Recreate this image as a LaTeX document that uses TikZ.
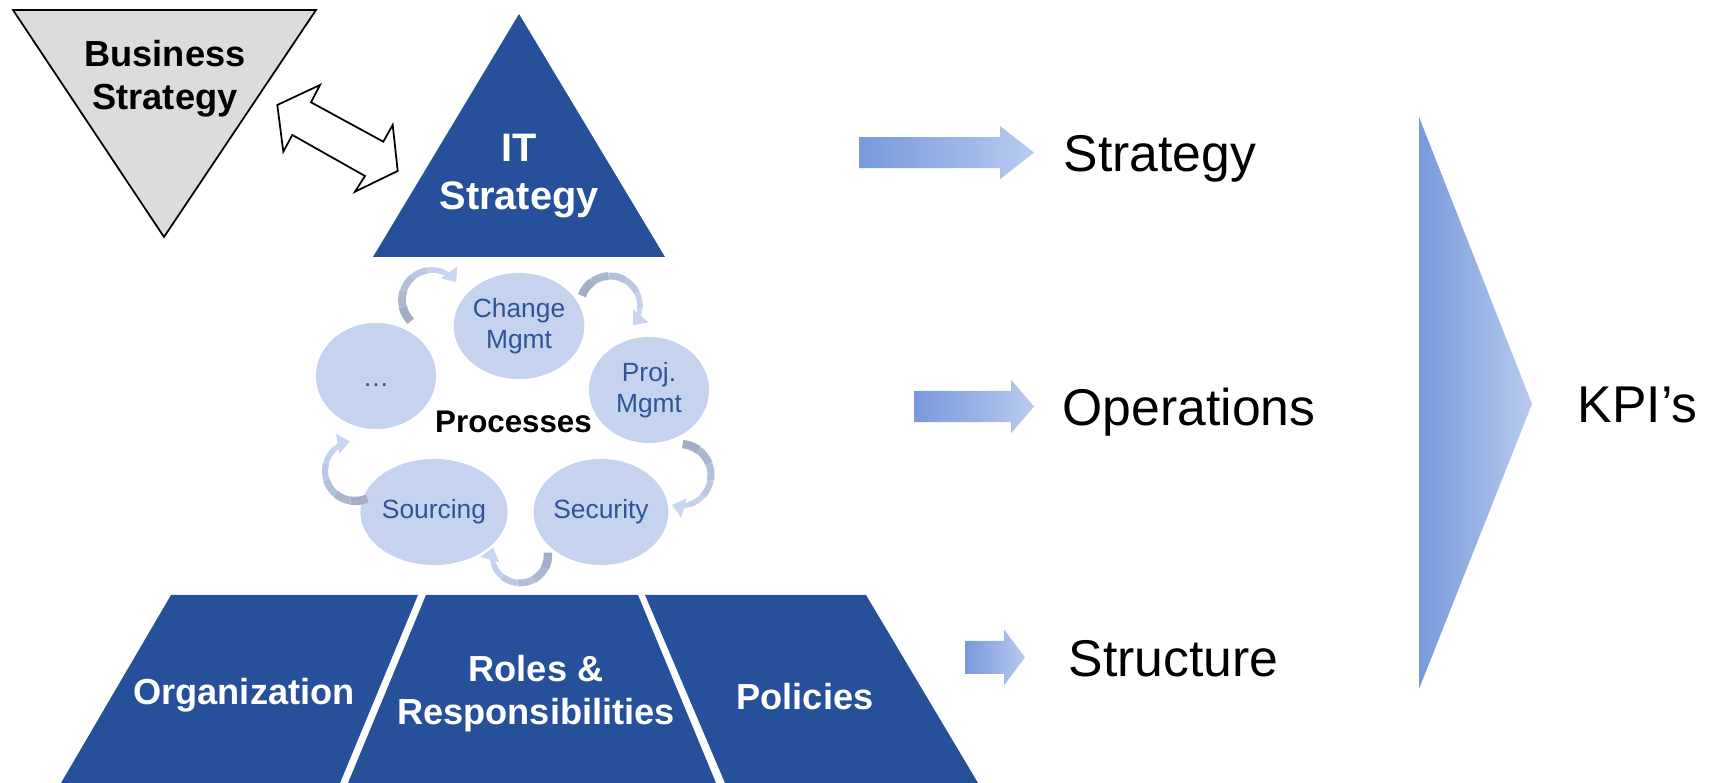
\documentclass[tikz,border=0pt]{standalone}
\usepackage{fontspec}
\setmainfont{Liberation Sans}
\usepackage{tikz}
\usetikzlibrary{shapes.geometric,arrows.meta}

\definecolor{itblue}{HTML}{27509B}
\definecolor{bizgray}{HTML}{DCDCDC}
\definecolor{procfill}{HTML}{C5D3EE}
\definecolor{proctext}{HTML}{2F5597}
\definecolor{cyctail}{HTML}{A3AEC6}
\definecolor{cychead}{HTML}{C9D6F1}
\definecolor{arrl}{HTML}{7899DB}
\definecolor{arrr}{HTML}{B8CAEE}

\newcommand{\cyclearrow}[5]{%
  \coordinate (cc) at ([shift={#2}]#1.center);
  \foreach \k in {0,...,4}{%
    \pgfmathsetmacro{\pa}{#4+(#5-#4)*\k/6}%
    \pgfmathsetmacro{\pb}{#4+(#5-#4)*(\k+1)/6}%
    \pgfmathsetmacro{\lw}{2.4-\k*0.2}%
    \pgfmathtruncatemacro{\mx}{100-\k*22}%
    \draw[line width=\lw pt, draw=cyctail!\mx!cychead] ([shift={(\pa:#3)}]cc) arc[start angle=\pa, end angle=\pb, radius=#3];
  }%
  \pgfmathsetmacro{\pa}{#4+(#5-#4)*5/6}%
  \draw[line width=1.4pt, draw=cychead, -{Triangle[width=5.5pt, length=3.5pt]}] ([shift={(\pa:#3)}]cc) arc[start angle=\pa, end angle=#5, radius=#3];
}

\newcommand{\blockarrow}[6]{%
  \shade[left color=arrl, right color=arrr] (#1,#4-#5) -- (#2,#4-#5) -- (#2,#4-#6) -- (#3,#4)
    -- (#2,#4+#6) -- (#2,#4+#5) -- (#1,#4+#5) -- cycle;
}

\begin{document}
\begin{tikzpicture}[x=0.01cm, y=0.01cm,
  proc/.style={ellipse, fill=procfill, text=proctext, minimum width=1.2cm, minimum height=1.06cm,
    inner sep=0pt, align=center, font=\fontsize{7.5}{8.8}\selectfont},
  whitelabel/.style={text=white, align=center, inner sep=0pt, font=\bfseries\fontsize{10.3}{12.2}\selectfont},
  biglabel/.style={anchor=base west, inner sep=0pt, font=\fontsize{14.7}{17}\selectfont}]
	\useasboundingbox (0,0) rectangle (1713,783);

	\filldraw[fill=bizgray, draw=black, line width=0.5pt] (13,773) -- (316,773) -- (164,546) -- cycle;
	\node[align=center, inner sep=0pt, font=\bfseries\fontsize{10.3}{12.2}\selectfont] (biz) at (165,704) {Business\\Strategy};
	\fill[itblue] (519,769) -- (665,526) -- (373,526) -- cycle;
	\node[align=center, inner sep=0pt, text=white, font=\bfseries\fontsize{11.3}{13.6}\selectfont] (it) at (519,607) {IT\\Strategy};
	\filldraw[fill=white, draw=black, line width=0.5pt, line join=miter]
	  (277.3,678) -- (320,698) -- (311,680.7) -- (383.3,641.3) -- (392.7,658) -- (397.7,612)
	  -- (355,591.3) -- (365,607) -- (292.3,648) -- (283.3,631.3) -- cycle;

	\node[proc] (chg) at (519,457) {Change\\Mgmt};
	\node[proc] (prj) at (649,393) {Proj.\\Mgmt};
	\node[proc] (sec) at (601,271) {Security};
	\node[proc] (src) at (434,271) {Sourcing};
	\node[proc] (etc) at (376,407) {\smash{\raisebox{-2.9pt}{\dots}}};
	\node[anchor=base, inner sep=0pt, font=\bfseries\fontsize{8.9}{10}\selectfont] (procs) at (513.5,350) {Processes};

	\cyclearrow{etc}{(56,76)}{30}{225}{36}
	\cyclearrow{chg}{(91,20)}{30}{160}{-40}
	\cyclearrow{prj}{(31,-85)}{31}{85}{-105}
	\cyclearrow{sec}{(-81,-43)}{28}{5}{-195}
	\cyclearrow{src}{(-79,41)}{30}{-66}{-260}

	\fill[itblue] (171,188) -- (418,188) -- (340,0) -- (61,0) -- cycle;
	\fill[itblue] (426,188) -- (638,188) -- (716,0) -- (348,0) -- cycle;
	\fill[itblue] (645,188) -- (866,188) -- (978,0) -- (725,0) -- cycle;
	\node[whitelabel, anchor=base] (org) at (244,78) {Organization};
	\node[whitelabel] (roles) at (536,89) {Roles \&\\Responsibilities};
	\node[whitelabel, anchor=base] (pol) at (805,73) {Policies};

	\blockarrow{859}{1000}{1034}{630.4}{15.5}{26.6}
	\blockarrow{914}{1011}{1034}{376.5}{15.7}{26.8}
	\blockarrow{965}{1004}{1025}{125.6}{16.6}{28}
	\shade[left color=arrl, right color=arrr] (1419,666) -- (1532,379) -- (1419,94) -- cycle;

	\node[biglabel] (strat) at (1063,611) {Strategy};
	\node[biglabel] (ops) at (1062,357) {Operations};
	\node[biglabel] (struct) at (1068,106) {Structure};
	\node[biglabel] (kpi) at (1577,360) {KPI’s};
\end{tikzpicture}
\end{document}
